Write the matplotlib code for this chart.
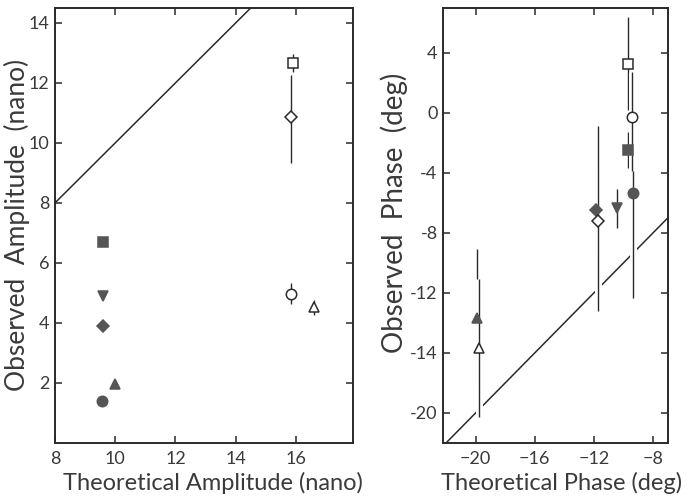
import numpy as np
import matplotlib
matplotlib.use("Agg")
import matplotlib.pyplot as plt
import matplotlib.patheffects as pe

plt.rcParams['font.family'] = ['Lato', 'DejaVu Sans']

# marker order: filled square, filled down-tri, filled diamond, filled up-tri,
# filled circle, open square, open diamond, open circle, open up-tri
amp_theo = [9.6, 9.6, 9.6, 10.0, 9.55, 15.9, 15.85, 15.85, 16.6]
amp_obs = [6.7, 4.9, 3.9, 1.95, 1.4, 12.67, 10.87, 4.97, 4.53]
amp_err_lo = [0, 0, 0, 0, 0, 0.3, 1.55, 0.35, 0.25]
amp_err_hi = [0, 0, 0, 0, 0, 0.3, 1.4, 0.35, 0.25]

ph_theo = [-9.69, -10.43, -11.85, -19.89, -9.37, -9.66, -11.75, -9.41, -19.78]
ph_obs = [-2.47, -6.36, -6.45, -13.69, -5.35, 3.27, -7.2, -0.24, -15.69]
ph_err_lo = [1.2, 1.3, 3.1, 4.6, 7.0, 3.1, 6.0, 3.6, 4.6]
ph_err_hi = [1.2, 1.3, 2.8, 4.6, 7.0, 3.1, 6.3, 3.0, 4.6]

amp_xticks = [8, 10, 12, 14, 16]
amp_yticks = [2, 4, 6, 8, 10, 12, 14]
ph_xticks = [-20, -16, -12, -8]
ph_yticks = [-20, -16, -12, -8, -4, 0, 4]
ph_ylabels = ['-20', '-14', '-12', '-8', '-4', '0', '4']

markers = ['s', 'v', 'D', '^', 'o', 's', 'D', 'o', '^']
filled = [True] * 5 + [False] * 4
sizes = [6.5, 7, 6.5, 7, 7.5, 7, 6.5, 7.5, 7]

ink = '#2a2a2a'
gray = '#555555'
txt = '#3a3a3a'

fig = plt.figure(figsize=(6.87, 4.96), dpi=100)
ax1 = fig.add_axes([0.080, 0.107, 0.434, 0.877])
ax2 = fig.add_axes([0.645, 0.107, 0.327, 0.877])


def draw(ax, xs, ys, lo, hi):
    for i in range(len(xs)):
        fc = gray if filled[i] else 'white'
        ec = gray if filled[i] else ink
        yerr = None
        if lo[i] > 0 or hi[i] > 0:
            yerr = [[lo[i]], [hi[i]]]
        cont = ax.errorbar([xs[i]], [ys[i]], yerr=yerr, fmt=markers[i],
                           ms=sizes[i], mfc=fc, mec=ec, mew=1.1,
                           ecolor=ink, elinewidth=1.0, capsize=0, zorder=3)
        # white halo so the diagonal line breaks where a bar crosses it
        for lc in cont[2]:
            lc.set_path_effects([pe.withStroke(linewidth=5, foreground='white')])


# amplitude panel
ax1.plot([8, 14.5], [8, 14.5], color=ink, lw=1.1, zorder=2)
draw(ax1, amp_theo, amp_obs, amp_err_lo, amp_err_hi)
ax1.set_xlim(8, 17.9)
ax1.set_ylim(0, 14.5)
ax1.set_xticks(amp_xticks)
ax1.set_yticks(amp_yticks)
ax1.set_xlabel('Theoretical Amplitude (nano)', fontsize=17, color=txt)
ax1.set_ylabel('Observed  Amplitude  (nano)', fontsize=19, color=txt)
ax1.xaxis.set_label_coords(0.53, -0.066)
ax1.yaxis.set_label_coords(-0.084, 0.5)

# phase panel
ax2.plot([-22.2, -7], [-22.2, -7], color=ink, lw=1.1, zorder=2)
draw(ax2, ph_theo, ph_obs, ph_err_lo, ph_err_hi)
ax2.set_xlim(-22.2, -7)
ax2.set_ylim(-22, 7)
ax2.set_xticks(ph_xticks)
ax2.set_yticks(ph_yticks)
ax2.set_yticklabels(ph_ylabels)
ax2.set_xlabel('Theoretical Phase (deg)', fontsize=17, color=txt)
ax2.set_ylabel('Observed  Phase  (deg)', fontsize=20, color=txt)
ax2.xaxis.set_label_coords(0.527, -0.066)
ax2.yaxis.set_label_coords(-0.158, 0.53)

for ax in (ax1, ax2):
    for s in ax.spines.values():
        s.set_linewidth(1.4)
        s.set_color(ink)
    ax.tick_params(direction='in', length=5, width=1.1, color=ink,
                   top=True, right=True, labelsize=13, labelcolor=txt, pad=4)
    ax.tick_params(axis='x', pad=6)

fig.savefig('out.png', dpi=100)
